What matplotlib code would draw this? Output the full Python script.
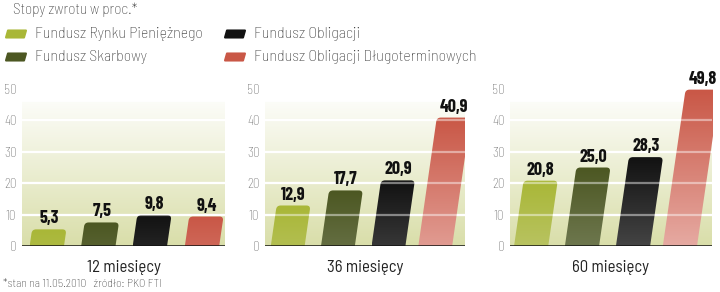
import numpy as np
import matplotlib.pyplot as plt
from matplotlib.path import Path
from matplotlib.patches import PathPatch
from matplotlib.colors import to_rgb

# data
funds = ["Fundusz Rynku Pieniężnego", "Fundusz Skarbowy",
         "Fundusz Obligacji", "Fundusz Obligacji Długoterminowych"]
periods = ["12 miesięcy", "36 miesięcy", "60 miesięcy"]
returns_12 = [5.3, 7.5, 9.8, 9.4]
returns_36 = [12.9, 17.7, 20.9, 40.9]
returns_60 = [20.8, 25.0, 28.3, 49.8]
yticks = [0, 10, 20, 30, 40, 50]

title = "Stopy zwrotu w proc.*"
footnote = "*stan na 11.05.2010   źródło: PKO FTI"

# (top colour, pale bottom colour)
bar_colors = [("#a9b737", "#cdd39a"), ("#4c5722", "#8f977a"),
              ("#121212", "#6a6a6a"), ("#c95746", "#e6aaa2")]

plt.rcParams["font.family"] = ["Barlow Semi Condensed", "DejaVu Sans"]
plt.rcParams["font.weight"] = "light"
num_font = ["Barlow Condensed", "DejaVu Sans"]

W, H = 720, 292
fig = plt.figure(figsize=(W / 100, H / 100), dpi=100)

BW = 0.66      # bar width in x units
SLANT = 0.0088  # x shift per y unit
XLIM = (-0.5, 3.4)


def bar_path(x0, h, w, rx, ry):
    s = SLANT * h
    ry = min(ry, h * 0.5)
    verts = [
        (x0, 0), (x0 + w, 0),
        (x0 + w + s * (h - ry) / h, h - ry), (x0 + w + s, h), (x0 + w + s - rx, h),
        (x0 + s + rx, h), (x0 + s, h), (x0 + s * (h - ry) / h, h - ry),
        (x0, 0),
    ]
    codes = [Path.MOVETO, Path.LINETO,
             Path.LINETO, Path.CURVE3, Path.CURVE3,
             Path.LINETO, Path.CURVE3, Path.CURVE3,
             Path.CLOSEPOLY]
    return Path(verts, codes)


def vgrad(c_bottom, c_top, n=128):
    a, b = np.array(to_rgb(c_bottom)), np.array(to_rgb(c_top))
    t = np.linspace(0, 1, n)[:, None]
    return (a * (1 - t) + b * t)[:, None, :]


panels = [(22, 203), (265, 200), (510, 202)]
y0_px, y50_px = 246, 89

for (left, width), period, vals in zip(panels, periods,
                                       [returns_12, returns_36, returns_60]):
    ax = fig.add_axes([left / W, (H - y0_px) / H, width / W, (y0_px - y50_px) / H])

    # background fade
    bg = vgrad("#d9dea9", "#ffffff", 256)
    bg[int(256 * 0.92):] = 1.0
    ax.imshow(bg, extent=(*XLIM, 0, 50), origin="lower", aspect="auto", zorder=0)

    for yv in yticks[1:-1]:
        ax.axhline(yv, color="white", lw=1.6, zorder=1)

    xpx = width / (XLIM[1] - XLIM[0])
    ypx = (y0_px - y50_px) / 50.0
    for i, (v, (ctop, cbot)) in enumerate(zip(vals, bar_colors)):
        s = SLANT * v
        x0 = i - BW / 2 - s / 2
        path = bar_path(x0, v, BW, 4 / xpx, 4 / ypx)
        patch = PathPatch(path, facecolor="none", edgecolor="none", zorder=2)
        ax.add_patch(patch)
        strength = v / 50.0
        cb = np.array(to_rgb(ctop)) * (1 - strength) + np.array(to_rgb(cbot)) * strength
        im = ax.imshow(vgrad(cb, ctop), extent=(x0, x0 + BW + s, 0, v),
                       origin="lower", aspect="auto", zorder=2)
        im.set_clip_path(patch)
        im.set_clip_box(None)
        ax.text(i + s / 2, v + 1.9, f"{v:.1f}".replace(".", ","),
                ha="center", va="baseline", fontsize=13, fontweight="bold",
                family=num_font, color="#111111", clip_on=False, zorder=6)

    for yv in yticks[1:-1]:
        ax.axhline(yv, color="white", lw=1.6, alpha=0.45, zorder=3)
    ax.axhline(0, color="#111111", lw=1.8, zorder=5)

    ax.set_xlim(*XLIM)
    ax.set_ylim(0, 50)
    ax.set_xticks([])
    ax.set_yticks(yticks)
    ax.tick_params(axis="y", length=0, pad=4, labelsize=9.5, labelcolor="#666666")
    for sp in ax.spines.values():
        sp.set_visible(False)
    ax.text(0.5, -0.135, period, transform=ax.transAxes, ha="center", va="center",
            fontsize=12, color="#222222", fontweight="normal")

# header, legend and footnote in pixel coordinates
ov = fig.add_axes([0, 0, 1, 1], zorder=-1)
ov.set_xlim(0, W)
ov.set_ylim(H, 0)
ov.axis("off")

ov.text(13, 10, title, ha="left", va="center", fontsize=11, color="#333333")

legend_pos = [(6, 34), (6, 57), (225, 34), (225, 57)]
for (lx, ly), name, (ctop, _) in zip(legend_pos, funds, bar_colors):
    sw = Path([(lx, ly + 3.5), (lx + 18, ly + 3.5), (lx + 20, ly - 3.5), (lx + 2, ly - 3.5), (lx, ly + 3.5)],
              [Path.MOVETO, Path.LINETO, Path.LINETO, Path.LINETO, Path.CLOSEPOLY])
    ov.add_patch(PathPatch(sw, facecolor=ctop, edgecolor=ctop, lw=1.5, joinstyle="round"))
    ov.text(lx + 29, ly, name, ha="left", va="center", fontsize=11.5, color="#333333")

ov.text(3, 284, footnote, ha="left", va="center", fontsize=8.5, color="#333333")

fig.savefig("out.png", dpi=100)
